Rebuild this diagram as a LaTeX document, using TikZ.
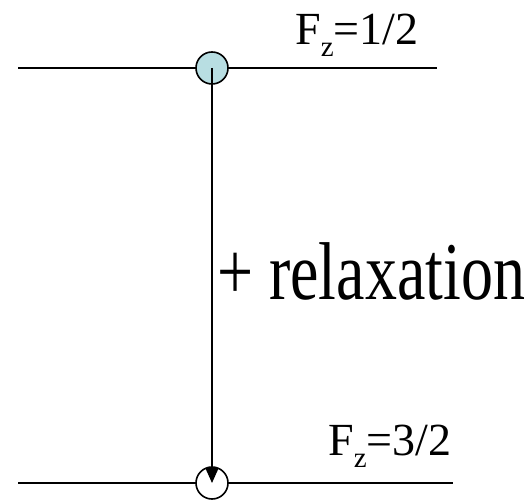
\documentclass[tikz,border=0pt]{standalone}
\usepackage{fontspec}
\setmainfont{Liberation Serif}
\usepackage{graphicx}
\usetikzlibrary{arrows.meta}
\definecolor{popfill}{RGB}{184,222,226}
\begin{document}
\begin{tikzpicture}[x=1pt,y=1pt,>={Triangle[width=13pt,length=15pt]},
  lvl/.style={line width=2pt},
  pop/.style={circle,draw,line width=1.6pt,minimum size=32pt,inner sep=0pt},
  lab/.style={anchor=base west,inner sep=0pt,font=\fontsize{46}{46}\selectfont}]
  \useasboundingbox (0,0) rectangle (529,500);
  \coordinate (a1) at (18,432);\coordinate (a2) at (437,432);
  \coordinate (b1) at (18,17);\coordinate (b2) at (453,17);
  \draw[lvl] (a1)--(a2);\draw[lvl] (b1)--(b2);
  \node[pop,fill=popfill] (up) at (212,432) {};
  \node[pop,fill=white] (lo) at (212,17) {};
  \draw[->,line width=1.6pt] (up.center)--(lo.center);
  \node[lab] (fa) at (295,455) {F\raisebox{-12pt}{\fontsize{29}{29}\selectfont z}=1/2};
  \node[lab] (fb) at (328,45) {F\raisebox{-12pt}{\fontsize{29}{29}\selectfont z}=3/2};
  \node[anchor=base west,inner sep=0pt] (rx) at (217,200)
    {\scalebox{0.78}[1]{\fontsize{82}{82}\selectfont + relaxation}};
\end{tikzpicture}
\end{document}
